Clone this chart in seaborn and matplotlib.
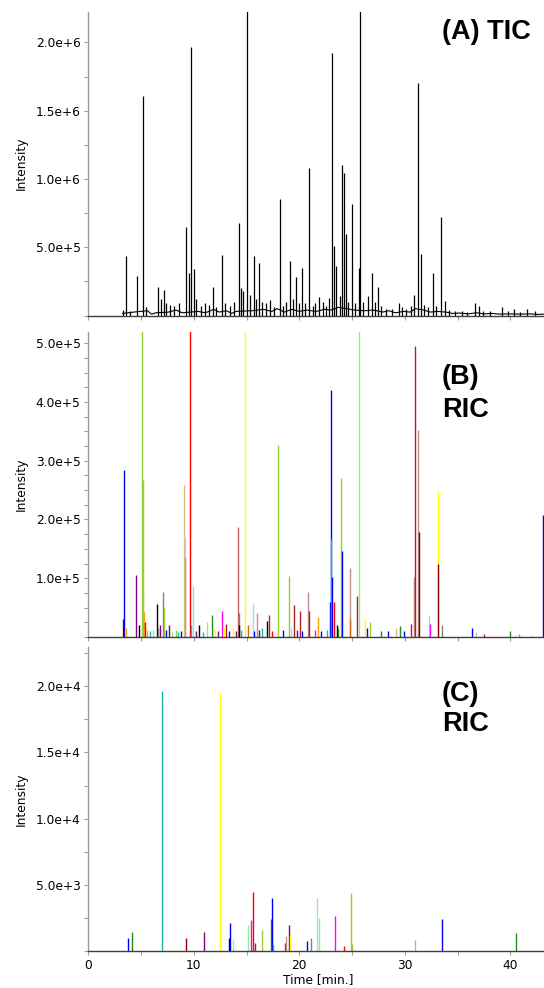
import numpy as np
import pandas as pd
import matplotlib
matplotlib.use("Agg")
import matplotlib.pyplot as plt
from matplotlib.ticker import MultipleLocator
import seaborn as sns

# ---------------- data ----------------
# (A) total ion chromatogram: peak apexes [min], [counts]
tic_time = [3.29, 3.57, 3.95, 4.62, 5.16, 5.47, 6.61, 6.89, 7.18, 7.37, 7.75, 8.13, 8.60,
            9.23, 9.55, 9.76, 10.02, 10.21, 10.68, 11.06, 11.44, 11.79, 12.10, 12.67, 12.96,
            13.43, 13.81, 14.26, 14.43, 14.64, 15.01, 15.33, 15.71, 15.90, 16.18, 16.46,
            16.84, 17.22, 17.60, 18.14, 18.46, 18.74, 19.09, 19.40, 19.72, 19.97, 20.26,
            20.55, 20.95, 21.30, 21.49, 21.84, 22.25, 22.54, 22.79, 23.13, 23.29, 23.51,
            23.83, 24.08, 24.24, 24.38, 24.62, 24.97, 25.28, 25.64, 25.78, 26.04, 26.48,
            26.89, 27.13, 27.43, 27.74, 28.22, 28.79, 29.42, 29.73, 30.11, 30.59, 30.90,
            31.25, 31.54, 31.82, 32.20, 32.64, 32.96, 33.43, 33.84, 34.19, 34.76, 35.42,
            35.89, 36.63, 37.00, 37.41, 38.08, 39.21, 39.78, 40.35, 40.92, 41.58, 42.34]
tic_height = [40e3, 434e3, 35e3, 287e3, 1.61e6, 60e3, 206e3, 120e3, 184e3, 90e3, 80e3, 70e3, 90e3,
              647e3, 309e3, 1.965e6, 338e3, 120e3, 70e3, 90e3, 80e3, 206e3, 60e3, 441e3, 90e3,
              70e3, 100e3, 679e3, 200e3, 176e3, 2.4e6, 150e3, 434e3, 120e3, 382e3, 100e3,
              90e3, 110e3, 60e3, 853e3, 70e3, 100e3, 397e3, 120e3, 279e3, 90e3, 346e3,
              90e3, 1.08e6, 70e3, 90e3, 132e3, 100e3, 70e3, 130e3, 1.92e6, 510e3, 362e3,
              140e3, 1.10e6, 1.046e6, 600e3, 100e3, 816e3, 90e3, 345e3, 2.4e6, 100e3, 140e3,
              309e3, 100e3, 206e3, 70e3, 50e3, 50e3, 95e3, 60e3, 50e3, 70e3, 147e3,
              1.70e6, 448e3, 80e3, 60e3, 309e3, 70e3, 721e3, 103e3, 40e3, 30e3, 30e3,
              25e3, 88e3, 70e3, 35e3, 30e3, 60e3, 30e3, 45e3, 25e3, 50e3, 32e3]
# (A) baseline between the peaks
tic_base_time = [3.20, 3.8, 4.3, 5.6, 6.0, 6.4, 7.6, 8.3, 8.9, 10.4, 11.1, 11.9, 12.4, 13.1,
                 13.6, 14.0, 15.5, 16.6, 17.4, 17.9, 18.6, 19.3, 20.0, 20.7, 21.6, 22.4,
                 23.0, 23.7, 24.5, 25.2, 26.2, 27.0, 27.9, 28.5, 29.1, 29.9, 30.5, 31.0,
                 31.8, 32.4, 33.1, 33.9, 34.5, 35.2, 36.0, 36.8, 37.5, 38.3, 39.0, 39.9,
                 40.8, 41.8, 42.6, 43.19]
tic_base_level = [15e3, 20e3, 25e3, 35e3, 10e3, 20e3, 25e3, 40e3, 20e3, 30e3, 20e3, 45e3, 25e3,
                  35e3, 15e3, 30e3, 35e3, 45e3, 30e3, 50e3, 25e3, 45e3, 30e3, 40e3, 30e3, 45e3,
                  40e3, 60e3, 50e3, 40e3, 35e3, 40e3, 25e3, 35e3, 20e3, 30e3, 25e3, 50e3,
                  40e3, 25e3, 30e3, 25e3, 15e3, 18e3, 12e3, 20e3, 12e3, 15e3, 10e3, 12e3,
                  10e3, 12e3, 8e3, 10e3]

# (B) reconstructed ion chromatograms
ricb_time = [3.29, 3.41, 3.53, 4.52, 4.81, 5.06, 5.14, 5.21, 5.28, 5.36, 5.56, 5.85, 6.13,
             6.48, 6.61, 6.80, 7.05, 7.13, 7.36, 7.65, 7.93, 8.31, 8.50, 8.79, 9.07, 9.13,
             9.18, 9.64, 9.78, 9.90, 10.21, 10.49, 10.87, 11.25, 11.70, 11.82, 12.01, 12.29,
             12.64, 12.82, 13.05, 13.34, 13.72, 14.00, 14.19, 14.27, 14.31, 14.47, 14.88,
             15.14, 15.58, 15.75, 15.99, 16.18, 16.46, 16.91, 17.10, 17.41, 18.01, 18.46,
             19.00, 19.21, 19.53, 19.78, 20.10, 20.26, 20.80, 20.92, 21.49, 21.74, 22.06,
             22.60, 22.89, 22.96, 23.01, 23.10, 23.32, 23.57, 23.67, 23.92, 24.02, 24.78,
             24.81, 25.50, 25.63, 26.26, 26.37, 26.73, 27.74, 28.38, 29.14, 29.57, 29.92,
             30.56, 30.84, 30.94, 31.28, 31.37, 32.27, 32.39, 33.15, 33.19, 33.55, 36.40,
             36.78, 37.48, 40.00, 40.82, 41.99, 43.10]
ricb_height = [30e3, 284e3, 15e3, 105e3, 20e3, 560e3, 80e3, 268e3, 42e3, 25e3, 12e3, 10e3, 12e3,
               57e3, 15e3, 20e3, 77e3, 50e3, 12e3, 20e3, 10e3, 12e3, 8e3, 10e3, 258e3, 170e3,
               136e3, 560e3, 20e3, 87e3, 10e3, 20e3, 8e3, 25e3, 37e3, 15e3, 12e3, 10e3,
               45e3, 15e3, 22e3, 10e3, 15e3, 10e3, 188e3, 40e3, 20e3, 12e3, 560e3,
               20e3, 56e3, 10e3, 40e3, 12e3, 15e3, 28e3, 37e3, 10e3, 327e3, 12e3,
               103e3, 15e3, 54e3, 12e3, 45e3, 10e3, 77e3, 45e3, 12e3, 34e3, 10e3,
               12e3, 60e3, 421e3, 166e3, 102e3, 60e3, 20e3, 15e3, 270e3, 146e3, 117e3,
               30e3, 70e3, 560e3, 32e3, 15e3, 25e3, 10e3, 10e3, 15e3, 19e3, 10e3,
               22e3, 102e3, 495e3, 352e3, 178e3, 38e3, 22e3, 248e3, 125e3, 20e3, 15e3,
               8e3, 5e3, 10e3, 5e3, 3e3, 208e3]
ricb_color = ["darkred", "blue", "orange", "purple", "black", "yellowgreen", "lightgreen",
              "yellowgreen", "orange", "red", "orange", "lightseagreen", "lightgreen",
              "black", "gray", "purple", "gray", "yellowgreen", "blue", "purple", "lightgreen",
              "yellowgreen", "lightseagreen", "blue", "burlywood", "lightblue",
              "goldenrod", "red", "lightseagreen", "lightblue", "purple", "black",
              "lightseagreen", "lightgreen", "forestgreen", "lightgreen", "yellow", "purple",
              "magenta", "yellow", "firebrick", "blue", "yellow", "purple", "indianred",
              "gray", "black", "lightseagreen", "yellow",
              "chocolate", "lightblue", "blue", "rosybrown", "purple", "lightseagreen",
              "black", "brown", "red", "yellowgreen", "blue",
              "yellowgreen", "lightblue", "firebrick", "purple", "firebrick", "blue",
              "rosybrown", "firebrick", "magenta", "orange", "blue",
              "lightseagreen", "blue", "blue", "lightseagreen", "blue", "red", "black",
              "forestgreen", "yellowgreen", "blue", "rosybrown",
              "chocolate", "firebrick", "lightgreen", "yellow", "blue", "yellowgreen",
              "forestgreen", "blue", "burlywood", "forestgreen", "blue",
              "red", "rosybrown", "firebrick", "rosybrown", "darkred", "lightgreen",
              "magenta", "yellow", "darkred", "gray", "blue",
              "lightblue", "firebrick", "forestgreen", "rosybrown", "yellow", "blue"]

# (C) reconstructed ion chromatograms, low-abundance ions
ricc_time = [3.79, 4.11, 7.01, 9.29, 11.00, 12.48, 13.36, 13.40, 13.69, 15.14, 15.39, 15.64,
             15.83, 16.49, 17.36, 17.41, 17.55, 18.69, 18.74, 18.99, 19.15, 20.73, 21.11,
             21.68, 21.87, 23.38, 24.27, 24.87, 25.00, 31.00, 33.55, 40.57]
ricc_height = [1000, 1460, 19600, 980, 1430, 19450, 1000, 2100, 900, 2000, 2340, 4470,
               600, 1580, 2400, 4000, 500, 600, 1130, 1960, 1200, 750, 1030,
               4000, 2500, 2660, 380, 4420, 550, 880, 2430, 1400]
ricc_color = ["blue", "forestgreen", "lightseagreen", "darkred", "purple", "yellow", "black",
              "blue", "lightblue", "lightgreen", "magenta", "red",
              "firebrick", "yellowgreen", "forestgreen", "blue", "lightseagreen", "firebrick",
              "rosybrown", "purple", "yellow", "blue", "gray",
              "lightblue", "lightgreen", "magenta", "red", "yellowgreen", "yellowgreen",
              "sandybrown", "blue", "forestgreen"]

# axis ticks and labels
x_ticks = [0, 10, 20, 30, 40]
x_tick_labels = ["0", "10", "20", "30", "40"]
a_ticks = [5e5, 1.0e6, 1.5e6, 2.0e6]
a_tick_labels = ["5.0e+5", "1.0e+6", "1.5e+6", "2.0e+6"]
b_ticks = [1e5, 2e5, 3e5, 4e5, 5e5]
b_tick_labels = ["1.0e+5", "2.0e+5", "3.0e+5", "4.0e+5", "5.0e+5"]
c_ticks = [5e3, 1.0e4, 1.5e4, 2.0e4]
c_tick_labels = ["5.0e+3", "1.0e+4", "1.5e+4", "2.0e+4"]
panel_titles = [["(A) TIC"], ["(B)", "RIC"], ["(C)", "RIC"]]

# ---------------- drawing ----------------
sns.set_theme(style="ticks")
plt.rcParams["font.family"] = ["DejaVu Sans"]
plt.rcParams["lines.solid_capstyle"] = "butt"

W, H = 544, 988
fig = plt.figure(figsize=(W / 100, H / 100), dpi=100)
x_right = 43.19


def px_axes(top, bottom):
    left = 88.3
    return fig.add_axes([left / W, 1 - bottom / H, (W - left) / W, (bottom - top) / H])


ax_a = px_axes(11.7, 315.5)
ax_b = px_axes(332.3, 637.0)
ax_c = px_axes(646.7, 951.3)


def draw_sticks(ax, times, heights, colors, lw=0.9):
    n = len(times)
    ids = [f"p{i}" for i in range(n)]
    df = pd.DataFrame({
        "time": np.repeat(np.asarray(times, float), 2),
        "intensity": np.column_stack([np.zeros(n), np.asarray(heights, float)]).ravel(),
        "peak": np.repeat(ids, 2),
    })
    sns.lineplot(data=df, x="time", y="intensity", hue="peak", units="peak",
                 estimator=None, sort=False, palette=dict(zip(ids, colors)),
                 legend=False, linewidth=lw, ax=ax)


# TIC: baseline trace plus black peaks
sns.lineplot(x=tic_base_time, y=tic_base_level, color="black", linewidth=0.8,
             estimator=None, sort=False, ax=ax_a)
draw_sticks(ax_a, tic_time, tic_height, ["black"] * len(tic_time), lw=0.9)

draw_sticks(ax_b, ricb_time, ricb_height, ricb_color, lw=1.0)
draw_sticks(ax_c, ricc_time, ricc_height, ricc_color, lw=1.0)

setup = [
    (ax_a, 2.2256e6, a_ticks, a_tick_labels, 2.5e5),
    (ax_b, 5.186e5, b_ticks, b_tick_labels, 2.5e4),
    (ax_c, 2.297e4, c_ticks, c_tick_labels, 2.5e3),
]
for i, (ax, ytop, yt, ytl, yminor) in enumerate(setup):
    ax.set_xlim(0, x_right)
    ax.set_ylim(0, ytop)
    ax.set_yticks(yt)
    ax.set_yticklabels(ytl)
    ax.yaxis.set_minor_locator(MultipleLocator(yminor))
    ax.set_xticks(x_ticks)
    ax.xaxis.set_minor_locator(MultipleLocator(5))
    if i < 2:
        ax.set_xticklabels([])
        ax.set_xlabel("")
    else:
        ax.set_xticklabels(x_tick_labels)
        ax.set_xlabel("Time [min.]", fontsize=8.8, color="black")
        ax.xaxis.set_label_coords(0.505, -0.072)
    ax.set_ylabel("Intensity", fontsize=8.8, color="black")
    ax.yaxis.set_label_coords(-0.133, 0.5)
    for side in ("top", "right"):
        ax.spines[side].set_visible(False)
    ax.spines["left"].set_color("#9a9a9a")
    ax.spines["left"].set_linewidth(1.0)
    ax.spines["bottom"].set_color("#404040")
    ax.spines["bottom"].set_linewidth(1.0)
    ax.tick_params(axis="both", which="both", direction="out", length=3, width=0.8,
                   color="#9a9a9a", labelsize=8.8, labelcolor="black", pad=2.5)
    ax.set_facecolor("white")

# panel titles
title_font = dict(family=["Liberation Sans", "DejaVu Sans"], fontsize=19.5, fontweight="bold",
                  color="black", ha="left", va="center")
ax_a.text(0.776, 0.933, panel_titles[0][0], transform=ax_a.transAxes, **title_font)
ax_b.text(0.776, 0.852, panel_titles[1][0], transform=ax_b.transAxes, **title_font)
ax_b.text(0.776, 0.744, panel_titles[1][1], transform=ax_b.transAxes, **title_font)
ax_c.text(0.776, 0.844, panel_titles[2][0], transform=ax_c.transAxes, **title_font)
ax_c.text(0.776, 0.745, panel_titles[2][1], transform=ax_c.transAxes, **title_font)

fig.patch.set_facecolor("white")
fig.savefig("out.png", dpi=100, facecolor="white")
